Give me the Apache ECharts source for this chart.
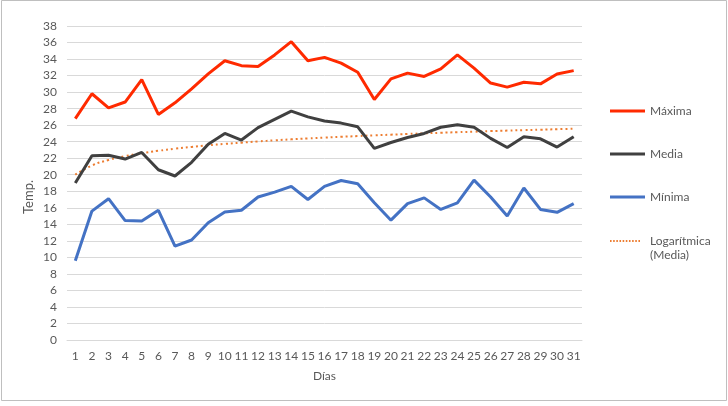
<!DOCTYPE html>
<html>
<head>
<meta charset="utf-8">
<script src="https://cdn.jsdelivr.net/npm/echarts@6/dist/echarts.min.js"></script>
<style>
html,body{margin:0;padding:0;background:#fff;}
#chart{width:728px;height:406px;}
</style>
</head>
<body>
<div id="chart"></div>
<script>
const days = ['1','2','3','4','5','6','7','8','9','10','11','12','13','14','15','16','17','18','19','20','21','22','23','24','25','26','27','28','29','30','31'];
const maxima = [26.8,29.8,28.1,28.8,31.5,27.3,28.7,30.4,32.2,33.8,33.2,33.1,34.5,36.1,33.8,34.2,33.5,32.4,29.1,31.6,32.3,31.9,32.8,34.5,32.9,31.1,30.6,31.2,31.0,32.2,32.6];
const media = [19.0,22.3,22.35,21.9,22.7,20.6,19.85,21.5,23.7,25.0,24.2,25.7,26.7,27.7,27.0,26.5,26.25,25.8,23.2,23.9,24.5,25.0,25.75,26.05,25.75,24.4,23.3,24.6,24.35,23.35,24.6];
const minima = [9.6,15.6,17.1,14.45,14.4,15.7,11.35,12.1,14.2,15.5,15.7,17.3,17.9,18.6,17.0,18.6,19.3,18.9,16.6,14.5,16.5,17.2,15.8,16.6,19.35,17.3,15.0,18.4,15.8,15.45,16.5];
const logMedia = [20.0,21.12,21.78,22.25,22.61,22.9,23.15,23.37,23.56,23.73,23.88,24.03,24.16,24.28,24.39,24.49,24.59,24.68,24.77,24.85,24.93,25.01,25.08,25.15,25.21,25.28,25.34,25.4,25.45,25.51,25.56];
const yTicks = {min: 0, max: 38, interval: 2};

const FONT = 'Lato';
const TXT = '#595959';
const lineIcon = 'path://M0,0L35,0L35,3L0,3Z';
let dots = '';
for (let i = 0; i < 10; i++) { const x = i * 3.2; dots += 'M' + x + ',0L' + (x + 1.6) + ',0L' + (x + 1.6) + ',2L' + x + ',2Z'; }
dots += 'M0,16L0.01,16';
const dotIcon = 'path://' + dots;

const chart = echarts.init(document.getElementById('chart'), null, {renderer: 'canvas'});
chart.setOption({
  animation: false,
  backgroundColor: '#ffffff',
  textStyle: {fontFamily: FONT},
  graphic: [{
    type: 'rect', shape: {x: 1.5, y: 0.5, width: 725, height: 400},
    style: {fill: 'none', stroke: '#bfbfbf', lineWidth: 1}, silent: true
  }, {
    type: 'text', x: 29, y: 197, rotation: Math.PI / 2,
    style: {text: 'Temp.', fill: TXT, font: '13px ' + FONT, align: 'center', verticalAlign: 'middle'}, silent: true
  }],
  grid: {left: 67, top: 26, width: 515, height: 314, containLabel: false},
  legend: [{
    orient: 'vertical', left: 605, top: 100, itemWidth: 35, itemHeight: 3, itemGap: 31,
    textStyle: {color: TXT, fontSize: 12, fontFamily: FONT},
    data: [{name: 'Máxima', icon: lineIcon}, {name: 'Media', icon: lineIcon}, {name: 'Mínima', icon: lineIcon}]
  }, {
    orient: 'vertical', left: 605, top: 229, itemWidth: 30, itemHeight: 16,
    textStyle: {color: TXT, fontSize: 12, fontFamily: FONT, lineHeight: 14, padding: [0, 0, 0, 5]},
    itemStyle: {borderWidth: 0},
    formatter: function () { return 'Logarítmica\n(Media)'; },
    data: [{name: 'Logarítmica (Media)', icon: dotIcon}]
  }],
  xAxis: {
    type: 'category', data: days, boundaryGap: true,
    name: 'Días', nameLocation: 'middle', nameGap: 30,
    nameTextStyle: {color: TXT, fontSize: 12, fontFamily: FONT},
    axisLine: {lineStyle: {color: '#d9d9d9', width: 1}},
    axisTick: {show: false},
    axisLabel: {color: TXT, fontSize: 12, fontFamily: FONT, margin: 10, interval: 0}
  },
  yAxis: {
    type: 'value', min: yTicks.min, max: yTicks.max, interval: yTicks.interval,
    axisLine: {show: false}, axisTick: {show: false},
    axisLabel: {color: TXT, fontSize: 12, fontFamily: FONT, margin: 10},
    splitLine: {lineStyle: {color: '#d9d9d9', width: 1}}
  },
  series: [
    {name: 'Máxima', type: 'line', data: maxima, symbol: 'none', color: '#ff2a00', lineStyle: {width: 3, color: '#ff2a00'}},
    {name: 'Media', type: 'line', data: media, symbol: 'none', color: '#404040', lineStyle: {width: 3, color: '#404040'}},
    {name: 'Mínima', type: 'line', data: minima, symbol: 'none', color: '#4472c4', lineStyle: {width: 3, color: '#4472c4'}},
    {name: 'Logarítmica (Media)', type: 'line', data: logMedia, symbol: 'none', smooth: true, color: '#ed7d31',
     lineStyle: {width: 2, color: '#ed7d31', type: [2, 3]}, z: 1}
  ]
});
</script>
</body>
</html>
